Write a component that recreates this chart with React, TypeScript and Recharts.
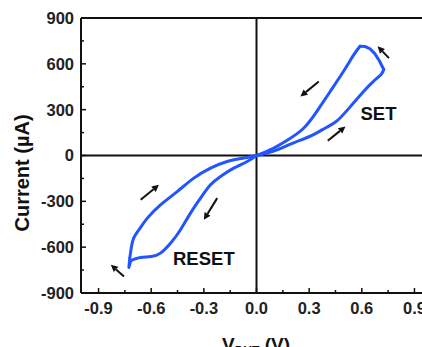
import React from 'react'
import {
  ComposedChart,
  Line,
  XAxis,
  YAxis,
  ReferenceLine,
  ReferenceDot,
  Label,
} from 'recharts'

// SET sweep: 0 -> +V along the lower branch, jump, back along the upper branch
const setUpV = [0.0, 0.08, 0.155, 0.25, 0.325, 0.4, 0.46, 0.535, 0.61, 0.665, 0.71, 0.725]
const setUpI = [0, 22, 55, 100, 137, 185, 228, 320, 419, 484, 530, 563]
const setTopV = [0.725, 0.7, 0.675, 0.645, 0.62, 0.59]
const setTopI = [563, 620, 665, 700, 713, 715]
const setBackV = [0.59, 0.555, 0.495, 0.42, 0.345, 0.27, 0.175, 0.08, 0.0]
const setBackI = [715, 660, 550, 419, 290, 180, 100, 38, 0]

// RESET sweep: 0 -> -V, then back to 0
const resetDownV = [0.0, -0.053, -0.13, -0.205, -0.262, -0.319, -0.376, -0.433, -0.49, -0.547, -0.6, -0.68, -0.717]
const resetDownI = [0, -39, -83, -137, -192, -279, -377, -486, -574, -639, -661, -672, -690]
const resetTipV = [-0.717, -0.727, -0.722]
const resetTipI = [-690, -733, -672]
const resetBackV = [-0.722, -0.714, -0.7, -0.67, -0.622, -0.547, -0.452, -0.357, -0.262, -0.167, -0.072, 0.0]
const resetBackI = [-672, -607, -541, -486, -410, -323, -236, -148, -83, -39, -17, 0]

const xTicks = [-0.9, -0.75, -0.6, -0.45, -0.3, -0.15, 0, 0.15, 0.3, 0.45, 0.6, 0.75, 0.9]
const yTicks = [-900, -750, -600, -450, -300, -150, 0, 150, 300, 450, 600, 750, 900]

// sweep-direction arrows: [v tail, i tail, v head, i head]
const arrows = [
  [0.755, 637, 0.69, 715],
  [0.355, 484, 0.25, 386],
  [0.406, 96, 0.507, 190],
  [-0.66, -290, -0.556, -192],
  [-0.224, -279, -0.3, -421],
  [-0.755, -792, -0.83, -715],
]

const notes = [
  { text: 'SET', v: 0.695, i: 275 },
  { text: 'RESET', v: -0.3, i: -677 },
]

const toPoints = (vs: number[], is: number[]) => vs.map((v, k) => ({ v, i: is[k] }))

const branches = [
  { key: 'setUp', data: toPoints(setUpV, setUpI), curve: 'natural' },
  { key: 'setTop', data: toPoints(setTopV, setTopI), curve: 'linear' },
  { key: 'setBack', data: toPoints(setBackV, setBackI), curve: 'natural' },
  { key: 'resetDown', data: toPoints(resetDownV, resetDownI), curve: 'natural' },
  { key: 'resetTip', data: toPoints(resetTipV, resetTipI), curve: 'linear' },
  { key: 'resetBack', data: toPoints(resetBackV, resetBackI), curve: 'natural' },
]

const FONT = '"Liberation Sans", Arial, sans-serif'
const PLOT_LEFT = 81
const PLOT_TOP = 18
const PLOT_BOTTOM = 293
const CURVE = '#2255ff'

const isMajor = (val: number, step: number) =>
  Math.abs(val / step - Math.round(val / step)) < 1e-6

function YTick(props: any) {
  const { y, payload } = props
  const major = isMajor(payload.value, 300)
  return (
    <g>
      <line x1={PLOT_LEFT} x2={PLOT_LEFT + (major ? 5 : 3)} y1={y} y2={y} stroke="#111" strokeWidth={1.5} />
      {major && (
        <text x={PLOT_LEFT - 7} y={y} dy="0.355em" textAnchor="end" fontFamily={FONT} fontWeight="bold" fontSize={16.5} fill="#222">
          {payload.value}
        </text>
      )}
    </g>
  )
}

function XTick(props: any) {
  const { x, payload } = props
  const major = isMajor(payload.value, 0.3)
  return (
    <g>
      <line x1={x} x2={x} y1={PLOT_BOTTOM} y2={PLOT_BOTTOM - (major ? 5 : 3)} stroke="#111" strokeWidth={1.5} />
      {major && (
        <text x={x} y={PLOT_BOTTOM + 9} dy="0.71em" textAnchor="middle" fontFamily={FONT} fontWeight="bold" fontSize={16.5} fill="#222">
          {payload.value.toFixed(1)}
        </text>
      )}
    </g>
  )
}

function TopTick(props: any) {
  const { x, payload } = props
  const major = isMajor(payload.value, 0.3)
  return <line x1={x} x2={x} y1={PLOT_TOP} y2={PLOT_TOP + (major ? 5 : 3)} stroke="#111" strokeWidth={1.5} />
}

function Arrow(props: any) {
  const { x1, y1, x2, y2 } = props
  const a = Math.atan2(y2 - y1, x2 - x1)
  const len = 7
  const w = 3.5
  const bx = x2 - len * Math.cos(a)
  const by = y2 - len * Math.sin(a)
  const px = -Math.sin(a) * w
  const py = Math.cos(a) * w
  return (
    <g>
      <line x1={x1} y1={y1} x2={bx} y2={by} stroke="#111" strokeWidth={2} />
      <polygon points={`${x2},${y2} ${bx + px},${by + py} ${bx - px},${by - py}`} fill="#111" />
    </g>
  )
}

export default function App() {
  return (
    <div style={{ position: 'absolute', left: 0, top: 0, width: 422, height: 347, overflow: 'hidden', background: '#fff' }}>
      <ComposedChart width={436} height={347} margin={{ top: 0, right: 4, bottom: 0, left: 0 }}>
        <XAxis
          dataKey="v"
          type="number"
          domain={[-1, 1]}
          ticks={xTicks}
          interval={0}
          height={54}
          tickSize={0}
          tickMargin={9}
          axisLine={{ stroke: '#111', strokeWidth: 2 }}
          tickLine={false}
          tick={<XTick />}
          allowDuplicatedCategory={false}
          label={
            <Label
              content={() => (
                <text x={256} y={351} textAnchor="middle" fontFamily={FONT} fontWeight="bold" fontSize={19} fill="#111">
                  V<tspan fontSize={12} dy={4}>DUT</tspan>
                  <tspan dy={-4}> (V)</tspan>
                </text>
              )}
            />
          }
        />
        <XAxis
          xAxisId="top"
          dataKey="v"
          type="number"
          orientation="top"
          domain={[-1, 1]}
          ticks={xTicks}
          interval={0}
          height={PLOT_TOP}
          tickSize={0}
          axisLine={{ stroke: '#111', strokeWidth: 2 }}
          tickLine={false}
          tick={<TopTick />}
        />
        <YAxis
          type="number"
          dataKey="i"
          domain={[-900, 900]}
          ticks={yTicks}
          interval={0}
          width={PLOT_LEFT}
          tickSize={0}
          tickMargin={7}
          axisLine={{ stroke: '#111', strokeWidth: 2 }}
          tickLine={false}
          tick={<YTick />}
          label={
            <Label
              content={() => (
                <text transform="translate(22,173) rotate(-90)" textAnchor="middle" dominantBaseline="central" fontFamily={FONT} fontWeight="bold" fontSize={20} fill="#111">
                  Current (µA)
                </text>
              )}
            />
          }
        />
        <ReferenceLine x={0} stroke="#111" strokeWidth={2} />
        <ReferenceLine y={0} stroke="#111" strokeWidth={2} />
        {branches.map((b) => (
          <Line
            key={b.key}
            data={b.data}
            type={b.curve as any}
            dataKey="i"
            stroke={CURVE}
            strokeWidth={3}
            dot={false}
            activeDot={false}
            isAnimationActive={false}
            strokeLinejoin="round"
            strokeLinecap="round"
          />
        ))}
        {arrows.map((a, k) => (
          <ReferenceLine
            key={k}
            segment={[{ x: a[0], y: a[1] }, { x: a[2], y: a[3] }]}
            shape={<Arrow />}
            ifOverflow="visible"
          />
        ))}
        {notes.map((n) => (
          <ReferenceDot
            key={n.text}
            x={n.v}
            y={n.i}
            r={0}
            ifOverflow="visible"
            shape={(p: any) => (
              <text x={p.cx} y={p.cy} dy="0.355em" textAnchor="middle" fontFamily={FONT} fontWeight="bold" fontSize={18.5} fill="#111">
                {n.text}
              </text>
            )}
          />
        ))}
      </ComposedChart>
    </div>
  )
}
